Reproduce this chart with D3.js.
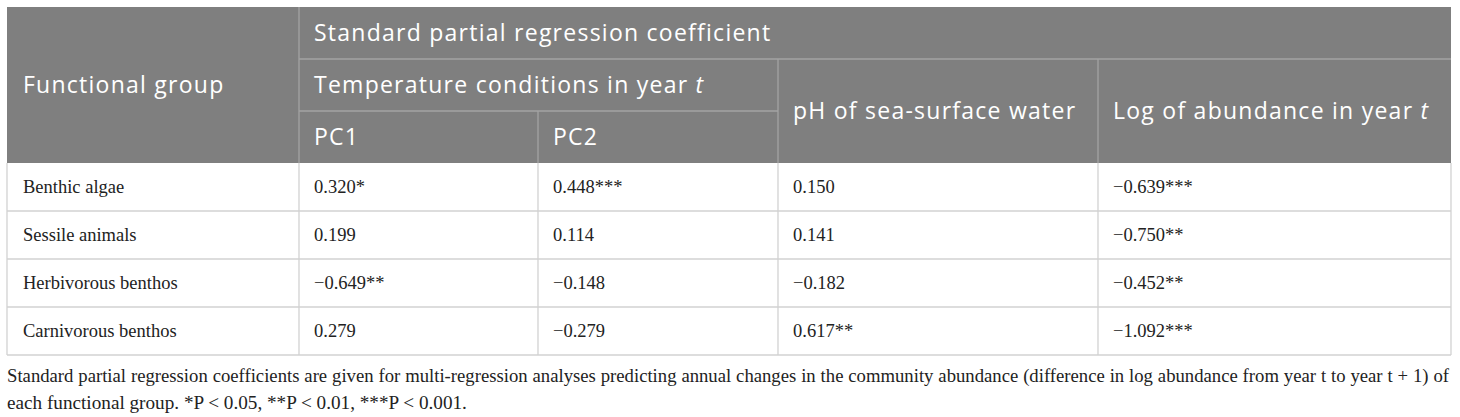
<!DOCTYPE html>
<html>
<head>
<meta charset="utf-8">
<script src="https://cdn.jsdelivr.net/npm/d3@7"></script>
<style>
  body { margin: 0; background: #fff; }
  .hd { font-family: "Open Sans", "Noto Sans", sans-serif; font-size: 23px; letter-spacing: 1.25px; fill: #fff; }
  .bd { font-family: "Liberation Serif", "Times New Roman", serif; font-size: 18.5px; fill: #222; }
  .fn { font-family: "Liberation Serif", "Times New Roman", serif; font-size: 19.2px; fill: #222; }
</style>
</head>
<body>
<div id="table"></div>
<script>
// Table content
var groups = ["Benthic algae", "Sessile animals", "Herbivorous benthos", "Carnivorous benthos"];
var pc1 = [0.320, 0.199, -0.649, 0.279];
var pc1Sig = ["*", "", "**", ""];
var pc2 = [0.448, 0.114, -0.148, -0.279];
var pc2Sig = ["***", "", "", ""];
var ph = [0.150, 0.141, -0.182, 0.617];
var phSig = ["", "", "", "**"];
var logAbund = [-0.639, -0.750, -0.452, -1.092];
var logSig = ["***", "**", "**", "***"];

var headTop = "Standard partial regression coefficient";
var headGroup = "Functional group";
var headTemp = ["Temperature conditions in year ", "t"];
var headPh = "pH of sea-surface water";
var headLog = ["Log of abundance in year ", "t"];
var headPc = ["PC1", "PC2"];

var footLines = [
  "Standard partial regression coefficients are given for multi-regression analyses predicting annual changes in the community abundance (difference in log abundance from year t to year t + 1) of",
  "each functional group. *P < 0.05, **P < 0.01, ***P < 0.001."
];

var W = 1460, H = 417;
var left = 7, right = 1451;
// column left edges
var cols = ["group", "pc1", "pc2", "ph", "log"];
var colX = d3.scaleOrdinal().domain(cols).range([7, 299, 538, 778, 1098]);

// header row edges
var hY = [7, 59, 111, 163];
var y = d3.scaleBand().domain(groups).range([163, 355]);

var fmt = d3.format(".3f");
var pad = 15;
var headBg = "#7f7f7f", headLine = "#a3a3a3", gridLine = "#d2d2d2";

var svg = d3.select("#table").append("svg")
    .attr("width", W)
    .attr("height", H);

// Header background
svg.append("rect")
    .attr("x", left).attr("y", hY[0])
    .attr("width", right - left).attr("height", hY[3] - hY[0])
    .attr("fill", headBg);

// Header lines
var hLines = [
  [colX("pc1"), hY[1], right, hY[1]],
  [colX("pc1"), hY[2], colX("ph"), hY[2]],
  [colX("pc1"), hY[0], colX("pc1"), hY[3]],
  [colX("pc2"), hY[2], colX("pc2"), hY[3]],
  [colX("ph"), hY[1], colX("ph"), hY[3]],
  [colX("log"), hY[1], colX("log"), hY[3]]
];
svg.append("g").selectAll("line")
    .data(hLines)
    .enter().append("line")
    .attr("x1", function(d) { return d[0]; })
    .attr("y1", function(d) { return d[1]; })
    .attr("x2", function(d) { return d[2]; })
    .attr("y2", function(d) { return d[3]; })
    .attr("stroke", headLine)
    .attr("stroke-width", 1.3);

function headText(x, yMid, parts) {
    var t = svg.append("text")
        .attr("class", "hd")
        .attr("x", x)
        .attr("y", yMid)
        .attr("dy", "0.36em");
    if (typeof parts === "string") { t.text(parts); return t; }
    t.append("tspan").text(parts[0]);
    t.append("tspan").attr("font-style", "italic").text(parts[1]);
    return t;
}

headText(colX("group") + 16, (hY[0] + hY[3]) / 2, headGroup);
headText(colX("pc1") + pad, (hY[0] + hY[1]) / 2, headTop);
headText(colX("pc1") + pad, (hY[1] + hY[2]) / 2, headTemp);
headText(colX("pc1") + pad, (hY[2] + hY[3]) / 2, headPc[0]);
headText(colX("pc2") + pad, (hY[2] + hY[3]) / 2, headPc[1]);
headText(colX("ph") + pad, (hY[1] + hY[3]) / 2, headPh);
headText(colX("log") + pad, (hY[1] + hY[3]) / 2, headLog);

// Body grid
var body = svg.append("g");
body.selectAll(".hrow")
    .data(groups)
    .enter().append("line")
    .attr("class", "hrow")
    .attr("x1", left).attr("x2", right)
    .attr("y1", function(d) { return y(d) + y.bandwidth(); })
    .attr("y2", function(d) { return y(d) + y.bandwidth(); })
    .attr("stroke", gridLine)
    .attr("stroke-width", 1.5);

body.selectAll(".vcol")
    .data(cols.map(colX).concat([right]))
    .enter().append("line")
    .attr("class", "vcol")
    .attr("x1", function(d) { return d; }).attr("x2", function(d) { return d; })
    .attr("y1", y.range()[0]).attr("y2", y.range()[1])
    .attr("stroke", gridLine)
    .attr("stroke-width", 1.3);

// Body cells
var series = { pc1: [pc1, pc1Sig], pc2: [pc2, pc2Sig], ph: [ph, phSig], log: [logAbund, logSig] };
var cells = [];
groups.forEach(function(g, i) {
    cells.push({ col: "group", row: g, text: g });
    ["pc1", "pc2", "ph", "log"].forEach(function(c) {
        cells.push({ col: c, row: g, text: fmt(series[c][0][i]) + series[c][1][i] });
    });
});

body.selectAll(".cell")
    .data(cells)
    .enter().append("text")
    .attr("class", "bd cell")
    .attr("x", function(d) { return colX(d.col) + (d.col == "group" ? 16 : pad); })
    .attr("y", function(d) { return y(d.row) + y.bandwidth() / 2; })
    .attr("dy", "0.33em")
    .text(function(d) { return d.text; });

// Footnote
var foot = svg.append("g");
foot.selectAll("text")
    .data(footLines)
    .enter().append("text")
    .attr("class", "fn")
    .attr("x", left)
    .attr("y", function(d, i) { return 382 + i * 27; })
    .text(function(d) { return d; })
    .each(function(d, i) {
        // first line: shrink until it fits, then justify with word spacing
        if (i == 0) {
            var sel = d3.select(this);
            var size = 19.2;
            while (this.getComputedTextLength() > right - left - 4 && size > 12) {
                size -= 0.1;
                sel.style("font-size", size + "px");
            }
            var spaces = d.split(" ").length - 1;
            sel.attr("word-spacing", (right - left - 2 - this.getComputedTextLength()) / spaces);
        }
    });
</script>
</body>
</html>
